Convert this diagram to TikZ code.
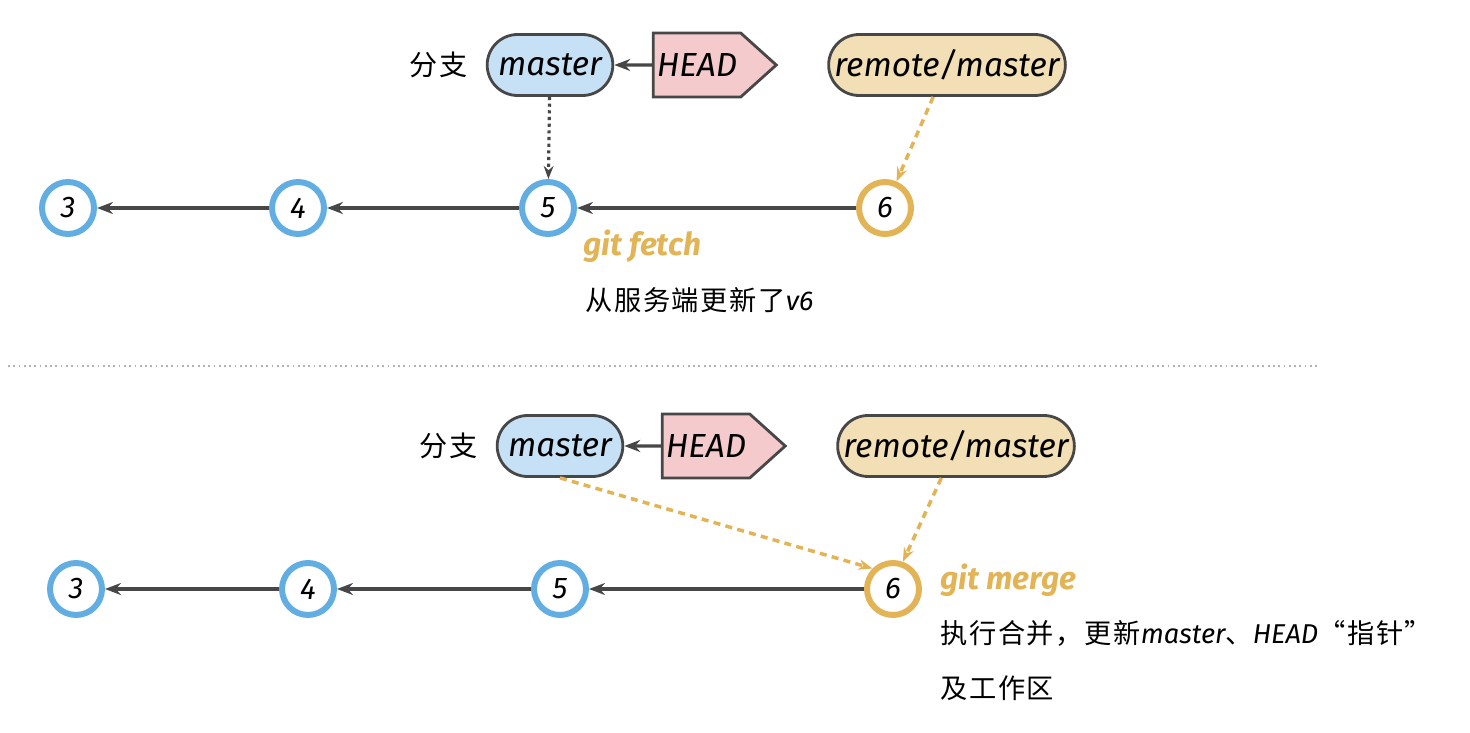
\documentclass[tikz,border=0pt]{standalone}
\usepackage{fontspec}
\setmainfont{Fira Sans}
\newfontfamily\cjk[LetterSpace=6]{Noto Sans CJK SC}
\usetikzlibrary{arrows.meta,positioning,shapes.misc,shapes.symbols}
\definecolor{branchblue}{HTML}{C6E0F5}
\definecolor{headpink}{HTML}{F4CACC}
\definecolor{remotetan}{HTML}{F2DFB6}
\definecolor{ringblue}{HTML}{62AEE3}
\definecolor{ringgold}{HTML}{E2B456}
\newcommand{\lat}[1]{{\rmfamily\itshape #1}}
\tikzset{
  ref/.style={rounded rectangle, draw=black!72, line width=1.6pt, minimum height=1.22cm,
              inner xsep=5pt, font=\fontsize{19}{22}\selectfont\itshape},
  br/.style={ref, fill=branchblue, minimum width=2.48cm},            % local branch
  rm/.style={ref, fill=remotetan, minimum width=4.6cm, inner xsep=1pt}, % remote branch
  hd/.style={signal, signal to=east, signal pointer angle=84, draw=black!72, line width=1.6pt,
             fill=headpink, minimum height=1.28cm, inner xsep=2pt,
             font=\fontsize{19}{22}\selectfont\itshape},
  commit/.style={circle, draw=ringblue, line width=3.4pt, fill=white, minimum size=1.04cm,
             inner sep=0pt, font=\fontsize{17}{20}\selectfont\itshape},
  commitnew/.style={commit, draw=ringgold},
  pa/.style={draw=black!72, line width=1.8pt, -{Stealth[length=3.2mm]}},            % parent edge
  ptr/.style={draw=black!72, line width=1.8pt, dotted, -{Stealth[length=2.6mm]}},   % pointer
  mv/.style={draw=ringgold, line width=2pt, dash pattern=on 4pt off 3pt,
             -{Stealth[length=2.8mm]}},                                            % moved pointer
  tag/.style={font=\cjk\fontsize{16}{18}\selectfont, inner sep=0pt},
  cmd/.style={font=\fontsize{18}{21}\selectfont\bfseries\itshape, text=ringgold, anchor=west, inner sep=0pt},
  note/.style={font=\cjk\fontsize{15.5}{18}\selectfont, anchor=west, inner sep=0pt},
}
\begin{document}
\begin{tikzpicture}[x=0.02cm, y=-0.02cm]
  \useasboundingbox (0,0) rectangle (1470,733);
  % before: fetch
  \node[br] (m1) at (550,65)   {master};
  \node[hd] (h1) at (697,65)   {HEAD};
  \node[rm] (r1) at (947,65)   {remote/master};
  \node[tag, left=0.36cm of m1] (b1) {分支};
  \node[commit] (a3) at (68,208)   {3};
  \node[commit] (a4) at (298,208)  {4};
  \node[commit] (a5) at (548,208)  {5};
  \node[commitnew] (a6) at (885,208) {6};
  \foreach \u/\v in {a4/a3,a5/a4,a6/a5} \draw[pa] (\u)--(\v);
  \draw[pa] (h1) -- (m1);
  \draw[ptr] (m1) -- (a5);
  \draw[mv] (r1) -- (a6);
  \node[cmd] (f1) at (583,246) {git fetch};
  \node[note] (n1) at (585,300) {从服务端更新了\lat{v6}};
  % separator
  \draw[black!30, line width=1pt, dotted] (8,366) -- (1318,366);
  % after: merge
  \node[br] (m2) at (560,446)  {master};
  \node[hd] (h2) at (706,446)  {HEAD};
  \node[rm] (r2) at (956,446)  {remote/master};
  \node[tag, left=0.36cm of m2] (b2) {分支};
  \node[commit] (c3) at (76,589)   {3};
  \node[commit] (c4) at (308,589)  {4};
  \node[commit] (c5) at (560,589)  {5};
  \node[commitnew] (c6) at (893,589) {6};
  \foreach \u/\v in {c4/c3,c5/c4,c6/c5} \draw[pa] (\u)--(\v);
  \draw[pa] (h2) -- (m2);
  \draw[mv] (m2.south) -- (c6.135);
  \draw[mv] (r2) -- (c6.70);
  \node[cmd] (g2) at (940,580) {git merge};
  \node[note] (n2) at (940,633) {执行合并，更新\lat{master}、\lat{HEAD}“指针”};
  \node[note] (n3) at (940,688) {及工作区};
\end{tikzpicture}
\end{document}
